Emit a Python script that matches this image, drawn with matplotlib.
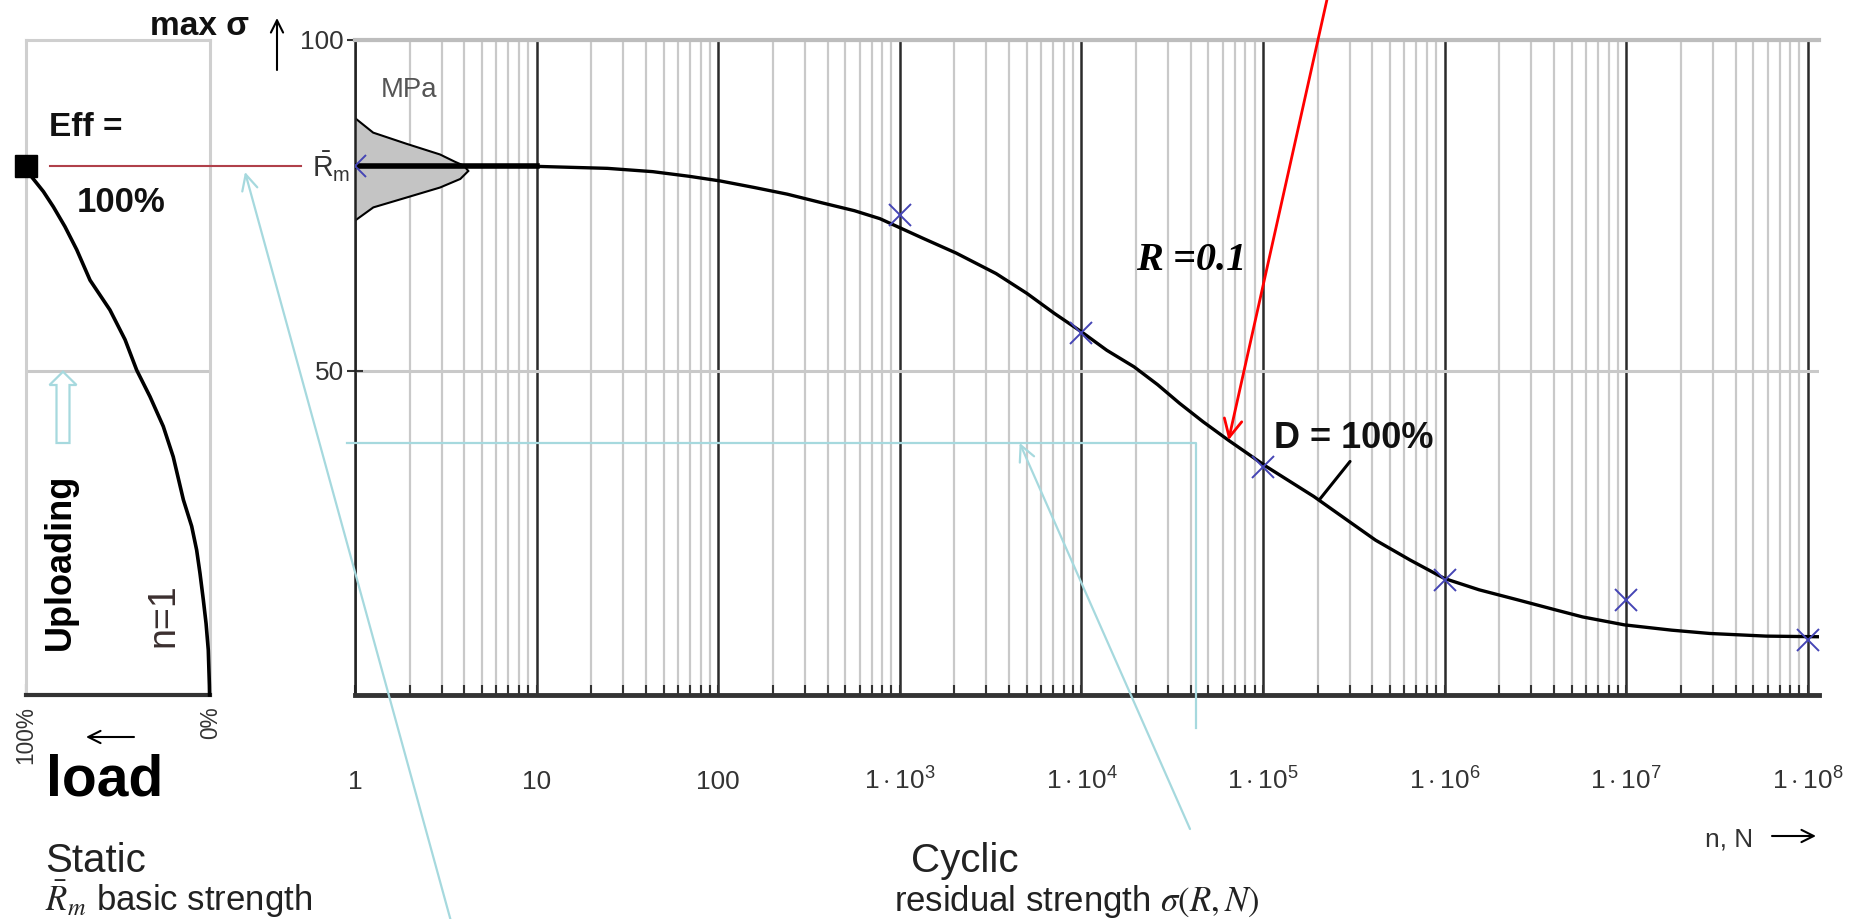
import numpy as np
import matplotlib
matplotlib.use("Agg")
import matplotlib.pyplot as plt
import matplotlib.transforms as mtransforms
import matplotlib.patches as mpatches
from matplotlib import font_manager as fm
from matplotlib.ticker import FixedLocator, NullFormatter, LogLocator

# ---------------- data ----------------
RM = 80.9  # mean static strength  (MPa)

curve_logN = [0.0, 0.5, 1.0, 1.39, 1.64, 1.84, 2.01, 2.20, 2.38, 2.57, 2.75, 2.89, 3.01,
              3.13, 3.31, 3.53, 3.70, 3.85, 4.0, 4.14, 4.29, 4.42, 4.54, 4.67, 4.81, 5.02,
              5.28, 5.46, 5.62, 5.81, 6.0, 6.19, 6.40, 6.62, 6.76, 6.99, 7.25, 7.46, 7.77, 8.07]
curve_sigma = [80.9, 80.9, 80.9, 80.6, 80.1, 79.4, 78.7, 77.7, 76.7, 75.4, 74.2, 73.0, 71.5,
               70.0, 67.8, 64.7, 61.7, 58.7, 55.9, 53.1, 50.6, 47.9, 45.1, 42.3, 39.5, 35.5,
               31.0, 27.5, 24.4, 21.4, 18.6, 16.9, 15.4, 13.8, 12.8, 11.6, 10.8, 10.3, 9.9, 9.8]

test_N = [1, 1e3, 1e4, 1e5, 1e6, 1e7, 1e8]
test_sigma = [80.9, 73.5, 55.7, 35.5, 18.4, 15.4, 9.3]

bell_logN = [0.0, 0.10, 0.285, 0.468, 0.55, 0.60, 0.624, 0.58, 0.468, 0.285, 0.101, 0.0]
bell_sigma = [88.2, 86.0, 84.3, 82.7, 81.6, 81.0, 80.2, 79.0, 77.7, 76.2, 74.7, 72.7]

static_load = [100, 96.9, 90.6, 85.2, 78.9, 72.5, 65.3, 54.5, 46.3, 40.0, 32.8, 25.6, 20.2,
               14.7, 10.2, 7.5, 5.7, 3.9, 2.4, 1.2, 0.6, 0.5]
static_sigma = [80.9, 79.3, 77.1, 74.8, 71.8, 68.3, 63.7, 59.2, 54.7, 50.1, 46.1, 41.6, 37.0,
                30.5, 26.5, 22.9, 19.4, 15.4, 11.8, 7.8, 2.5, 1.0]

x_ticks = [1, 10, 100, 1e3, 1e4, 1e5, 1e6, 1e7, 1e8]
x_ticklabels = ["1", "10", "100", r"$1\cdot10^{3}$", r"$1\cdot10^{4}$", r"$1\cdot10^{5}$",
                r"$1\cdot10^{6}$", r"$1\cdot10^{7}$", r"$1\cdot10^{8}$"]
y_ticks = [50, 100]
y_ticklabels = ["50", "100"]
load_ticks = [100, 0]
load_ticklabels = ["100%", "0%"]

# guide lines (cyan) and pointer targets
guide_sigma = 39.1
guide_logN_start, guide_logN_end = -0.045, 4.63
guide_sigma_bottom = -4.0
arrow_logN, arrow_sigma = 3.66, 39.1
red_logN, red_sigma = 4.81, 39.5
dleader_logN, dleader_sigma = 5.31, 30.5

# ---------------- fonts ----------------
names = {f.name for f in fm.fontManager.ttflist}
NARROW = "Liberation Sans Narrow" if "Liberation Sans Narrow" in names else "Liberation Sans"
NS = 1.0 if NARROW.endswith("Narrow") else 0.86
plt.rcParams["font.family"] = ["Liberation Sans", "DejaVu Sans"]
plt.rcParams["mathtext.fontset"] = "custom"
plt.rcParams["mathtext.rm"] = NARROW
plt.rcParams["mathtext.it"] = NARROW + ":italic"
plt.rcParams["mathtext.bf"] = NARROW + ":bold"

W, H = 1856, 919
fig = plt.figure(figsize=(W / 100, H / 100), dpi=100)
PX = mtransforms.Affine2D().scale(1.0 / W, -1.0 / H).translate(0, 1) + fig.transFigure

def frac(x0, y0, x1, y1):
    return [x0 / W, 1 - y1 / H, (x1 - x0) / W, (y1 - y0) / H]

CYAN = "#a6d9de"
GRID_MINOR = "#c9c9c9"
GRID_MAJOR = "#2b2b2b"
TXT = "#333333"

# ---------------- main axes ----------------
ax = fig.add_axes(frac(355, 40, 1818.7, 695))
ax.set_xscale("log")
ax.set_xlim(1, 10 ** 8.06)
ax.set_ylim(1, 100)

ax.xaxis.set_major_locator(FixedLocator(x_ticks))
ax.xaxis.set_minor_locator(LogLocator(base=10, subs=np.arange(2, 10), numticks=200))
ax.xaxis.set_minor_formatter(NullFormatter())
ax.set_xticks(x_ticks)
ax.set_xticklabels(x_ticklabels)
ax.set_yticks(y_ticks)
ax.set_yticklabels(y_ticklabels)

ax.grid(which="minor", axis="x", color=GRID_MINOR, lw=1.6, zorder=0)
ax.grid(which="major", axis="x", color=GRID_MAJOR, lw=1.8, zorder=0)
ax.grid(which="major", axis="y", color=GRID_MINOR, lw=2.2, zorder=0)
ax.set_axisbelow(True)

ax.spines["right"].set_visible(False)
ax.spines["top"].set_color("#bdbdbd")
ax.spines["top"].set_linewidth(3)
ax.spines["left"].set_color("#222222")
ax.spines["left"].set_linewidth(1.8)
ax.spines["bottom"].set_color("#333333")
ax.spines["bottom"].set_linewidth(3.5)

ax.tick_params(axis="x", which="minor", direction="in", length=7, width=1.5, color="#333333")
ax.tick_params(axis="x", which="major", direction="in", length=7, width=1.5, color="#333333",
               pad=68, labelsize=22 * NS, labelcolor=TXT, labelfontfamily=NARROW)
ax.tick_params(axis="y", which="major", direction="inout", length=12, width=1.5, color="#333333",
               pad=2, labelsize=22 * NS, labelcolor=TXT, labelfontfamily=NARROW)
for lab in ax.get_xticklabels():
    lab.set_verticalalignment("baseline")

# stress distribution at N = 1
bN = 10.0 ** np.array(bell_logN)
ax.fill(bN, bell_sigma, facecolor="#c4c4c4", edgecolor="black", lw=1.5, zorder=2)

# residual strength curve
cN = 10.0 ** np.array(curve_logN)
cs = np.array(curve_sigma)
ax.plot(cN, cs, color="black", lw=2.4, zorder=3, solid_joinstyle="round")
ax.plot(cN[cN <= 10], cs[cN <= 10], color="black", lw=4.0, zorder=3)

# test points
ax.plot(test_N, test_sigma, ls="none", marker="x", ms=16, mew=1.4, color="#4545b5", zorder=4)

# R_m label on y axis
ax.text(-0.003, RM, r"$\bar{\mathrm{R}}_{\mathrm{m}}$", transform=ax.get_yaxis_transform(),
        ha="right", va="center", fontsize=24 * NS, color=TXT)

# cyan guide polyline
ax.plot([10 ** guide_logN_start, 10 ** guide_logN_end, 10 ** guide_logN_end],
        [guide_sigma, guide_sigma, guide_sigma_bottom], color=CYAN, lw=1.6,
        clip_on=False, zorder=3)

# ---------------- left (static) axes ----------------
axl = fig.add_axes(frac(26, 40, 210.5, 695))
axl.set_xlim(100, 0)
axl.set_ylim(1, 100)
axl.set_xticks(load_ticks)
axl.set_xticklabels(load_ticklabels, rotation=90)
axl.set_yticks([50])
axl.set_yticklabels([])
axl.tick_params(axis="y", length=0)
axl.tick_params(axis="x", direction="in", length=8, width=1.5, color="#333333", pad=8,
                labelsize=19 * NS, labelcolor=TXT, labelfontfamily=NARROW)
axl.grid(axis="y", color=GRID_MINOR, lw=2.2)
for s in ["left", "right", "top"]:
    axl.spines[s].set_color("#cfcfcf")
    axl.spines[s].set_linewidth(2.2)
axl.spines["bottom"].set_color("#333333")
axl.spines["bottom"].set_linewidth(3)

axl.plot(static_load, static_sigma, color="black", lw=2.6, clip_on=False, zorder=3,
         solid_joinstyle="round")
axl.plot([100], [RM], marker="s", ms=16, color="black", clip_on=False, zorder=5)
axl.plot([87, -49], [RM, RM], color="#b0404a", lw=1.5, clip_on=False, zorder=4)

# ---------------- annotations ----------------
ax.annotate("", xy=(245, 172), xycoords=PX, xytext=(452, 925), textcoords=PX,
            arrowprops=dict(arrowstyle="->", color=CYAN, lw=1.6, mutation_scale=28,
                            shrinkA=0, shrinkB=0))
ax.annotate("", xy=(10 ** arrow_logN, arrow_sigma), xycoords="data", xytext=(1190, 829),
            textcoords=PX,
            arrowprops=dict(arrowstyle="->", color=CYAN, lw=1.6, mutation_scale=28,
                            shrinkA=0, shrinkB=0))
ax.annotate("", xy=(10 ** red_logN, red_sigma), xycoords="data", xytext=(1328, -5),
            textcoords=PX,
            arrowprops=dict(arrowstyle="->", color="#ff0000", lw=2.0, mutation_scale=32,
                            shrinkA=0, shrinkB=0))
ax.annotate("D = 100%", xy=(10 ** dleader_logN, dleader_sigma), xycoords="data",
            xytext=(1354, 439), textcoords=PX, ha="center", va="center",
            fontsize=26, fontweight="bold", color="#111111",
            arrowprops=dict(arrowstyle="-", color="black", lw=2.2, relpos=(0.5, 0.0),
                            shrinkA=2, shrinkB=0))

up = mpatches.FancyArrow(63, 443, 0, -71.3, width=13, head_width=27, head_length=13.3,
                         length_includes_head=True, facecolor="white", edgecolor=CYAN,
                         lw=1.6, transform=PX)
fig.add_artist(up)

def arrow(x0, y0, x1, y1, ms=22, lw=1.5):
    ax.annotate("", xy=(x1, y1), xycoords=PX, xytext=(x0, y0), textcoords=PX,
                arrowprops=dict(arrowstyle="->", color="black", lw=lw, mutation_scale=ms,
                                shrinkA=0, shrinkB=0))

arrow(277, 70, 277, 18)          # max sigma up
arrow(134, 737, 86, 737)         # load left
arrow(1772, 836, 1816, 836)      # n, N right

def t(x, y, s, **kw):
    fig.text(x, y, s, transform=PX, **kw)

t(150, 35, "max σ", fontsize=24, fontweight="bold", va="baseline", ha="left", color="#111111")
t(409, 90, "MPa", fontsize=23 * NS, family=NARROW, ha="center", va="center", color="#555555")
t(86, 128, "Eff =", fontsize=24, fontweight="bold", ha="center", va="center", color="#111111")
t(121, 202, "100%", fontsize=25, fontweight="bold", ha="center", va="center", color="#111111")
t(1191, 261, "R =0.1", fontsize=29, family=["Liberation Serif", "DejaVu Serif"],
  fontweight="bold", fontstyle="italic", ha="center", va="center", color="#000000")
t(60, 562, "Uploading", fontsize=26, fontweight="bold", rotation=90, ha="center", va="center",
  color="#000000")
t(163, 615, "n=1", fontsize=27, family=NARROW, rotation=90, ha="center", va="center",
  color="#3b2f2f")
t(46, 795, "load", fontsize=41, fontweight="bold", ha="left", va="baseline", color="#000000")
t(45, 872, "Static", fontsize=29, ha="left", va="baseline", color="#222222")
t(45, 911, r"$\bar{R}_m$ basic strength", fontsize=25, ha="left", va="baseline",
  color="#222222", math_fontfamily="stix")
t(911, 872, "Cyclic", fontsize=29, ha="left", va="baseline", color="#222222")
t(894, 911, r"residual strength $\sigma(R,N)$", fontsize=25, ha="left", va="baseline",
  color="#222222", math_fontfamily="stix")
t(1705, 846, "n, N", fontsize=22 * NS, family=NARROW, ha="left", va="baseline", color="#333333")

fig.savefig("out.png", dpi=100)
